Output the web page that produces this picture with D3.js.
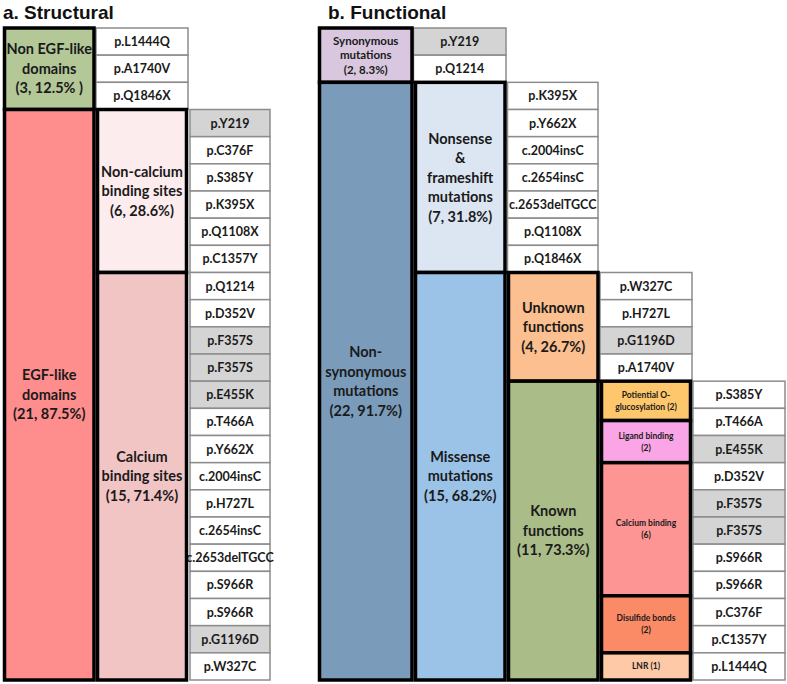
<!DOCTYPE html>
<html>
<head>
<meta charset="utf-8">
<script src="https://cdn.jsdelivr.net/npm/d3@7"></script>
<style>
  html, body { margin: 0; padding: 0; background: #fff; }
  svg { display: block; }
</style>
</head>
<body>
<svg id="chart" width="787" height="684"></svg>
<script>
// ---------------- DATA ----------------
const totalRows = 24;

// a. Structural
const structTitle = "a. Structural";
const structLevel1Labels = [["Non EGF-like", "domains", "(3, 12.5% )"], ["EGF-like", "domains", "(21, 87.5%)"]];
const structLevel1Counts = [3, 21];
const structLevel2Labels = [["Non-calcium", "binding sites", "(6, 28.6%)"], ["Calcium", "binding sites", "(15, 71.4%)"]];
const structLevel2Counts = [6, 15];
const structNonEgfMutations = ["p.L1444Q", "p.A1740V", "p.Q1846X"];
const structNonEgfShaded = [false, false, false];
const structEgfMutations = ["p.Y219", "p.C376F", "p.S385Y", "p.K395X", "p.Q1108X", "p.C1357Y",
  "p.Q1214", "p.D352V", "p.F357S", "p.F357S", "p.E455K", "p.T466A", "p.Y662X", "c.2004insC",
  "p.H727L", "c.2654insC", "c.2653delTGCC", "p.S966R", "p.S966R", "p.G1196D", "p.W327C"];
const structEgfShaded = [true, false, false, false, false, false,
  false, false, true, true, true, false, false, false,
  false, false, false, false, false, true, false];

// b. Functional
const funcTitle = "b. Functional";
const funcLevel1Labels = [["Synonymous", "mutations", "(2, 8.3%)"], ["Non-", "synonymous", "mutations", "(22, 91.7%)"]];
const funcLevel1Counts = [2, 22];
const funcSynMutations = ["p.Y219", "p.Q1214"];
const funcSynShaded = [true, false];
const funcLevel2Labels = [["Nonsense", "&", "frameshift", "mutations", "(7, 31.8%)"], ["Missense", "mutations", "(15, 68.2%)"]];
const funcLevel2Counts = [7, 15];
const funcNonsenseMutations = ["p.K395X", "p.Y662X", "c.2004insC", "c.2654insC", "c.2653delTGCC", "p.Q1108X", "p.Q1846X"];
const funcNonsenseShaded = [false, false, false, false, false, false, false];
const funcLevel3Labels = [["Unknown", "functions", "(4, 26.7%)"], ["Known", "functions", "(11, 73.3%)"]];
const funcLevel3Counts = [4, 11];
const funcUnknownMutations = ["p.W327C", "p.H727L", "p.G1196D", "p.A1740V"];
const funcUnknownShaded = [false, false, true, false];
const funcKnownSubLabels = [["Potiential O-", "glucosylation (2)"], ["Ligand binding", "(2)"], ["Calcium binding", "(6)"], ["Disulfide bonds", "(2)"], ["LNR (1)"]];
const funcKnownSubCounts = [2, 2, 6, 2, 1];
const funcKnownMutations = ["p.S385Y", "p.T466A", "p.E455K", "p.D352V", "p.F357S", "p.F357S",
  "p.S966R", "p.S966R", "p.C376F", "p.C1357Y", "p.L1444Q"];
const funcKnownShaded = [false, false, true, false, true, true, false, false, false, false, false];

// ---------------- LAYOUT / STYLE ----------------
// row extents drawn for the "known functions" sub-boxes (as they appear in the figure)
const knownSubRowExtent = [[13, 14.45], [14.45, 16], [16, 20.9], [20.9, 23], [23, 24]];

const colors = {
  nonEgf: "#b3c797", egf: "#fe8d8d", nonCa: "#fdeced", ca: "#f2c5c5",
  syn: "#d8c7df", nonSyn: "#7a9bba", nonsense: "#dce6f2", missense: "#9bc3e7",
  unknown: "#fcbf8f", known: "#aabd88",
  knownSub: ["#fec76c", "#f9a5e6", "#fe9595", "#fb8a66", "#fdc9a7"],
  shaded: "#d4d4d4", cell: "#ffffff", cellStroke: "#8c8c8c", text: "#1a1a1a"
};

const svg = d3.select("#chart");
const y = d3.scaleLinear().domain([0, totalRows]).range([28, 680]);

const FONT = "Lato, 'Open Sans', sans-serif";

function cells(g, items, shaded, startRow, x0, x1) {
  const sel = g.append("g").selectAll("g").data(items).join("g");
  sel.append("rect")
    .attr("x", x0).attr("width", x1 - x0)
    .attr("y", (d, i) => y(startRow + i)).attr("height", (d, i) => y(startRow + i + 1) - y(startRow + i))
    .attr("fill", (d, i) => shaded[i] ? colors.shaded : colors.cell)
    .attr("stroke", colors.cellStroke).attr("stroke-width", 1.5);
  sel.append("text")
    .attr("x", (x0 + x1) / 2)
    .attr("y", (d, i) => (y(startRow + i) + y(startRow + i + 1)) / 2)
    .attr("dy", "0.36em")
    .attr("text-anchor", "middle")
    .attr("font-family", FONT).attr("font-weight", 700).attr("font-size", 12.5)
    .attr("fill", colors.text)
    .text(d => d);
}

function box(g, lines, r0, r1, x0, x1, fill, fontSize, lineH) {
  g.append("rect")
    .attr("x", x0).attr("width", x1 - x0)
    .attr("y", y(r0)).attr("height", y(r1) - y(r0))
    .attr("fill", fill).attr("stroke", "#000").attr("stroke-width", 3.5);
  const cy = (y(r0) + y(r1)) / 2;
  const t = g.append("text")
    .attr("text-anchor", "middle")
    .attr("font-family", FONT).attr("font-weight", 700).attr("font-size", fontSize)
    .attr("fill", colors.text);
  lines.forEach((ln, i) => {
    t.append("tspan").attr("x", (x0 + x1) / 2)
      .attr("y", cy + (i - (lines.length - 1) / 2) * lineH)
      .attr("dy", "0.36em").text(ln);
  });
}

function cumStarts(counts, offset) {
  const s = []; let acc = offset;
  counts.forEach(c => { s.push(acc); acc += c; });
  return s;
}

// ---------------- PANEL A ----------------
const ga = svg.append("g");
ga.append("text").attr("x", 3).attr("y", 18.5)
  .attr("font-family", "'Liberation Sans', Arial, sans-serif").attr("font-weight", 700)
  .attr("font-size", 19).attr("fill", "#111").text(structTitle);

const aL1 = cumStarts(structLevel1Counts, 0);
const aL2 = cumStarts(structLevel2Counts, aL1[1]);
cells(ga, structNonEgfMutations, structNonEgfShaded, aL1[0], 96, 188);
cells(ga, structEgfMutations, structEgfShaded, aL1[1], 190, 270);
box(ga, structLevel1Labels[0], aL1[0], aL1[0] + structLevel1Counts[0], 4.5, 94, colors.nonEgf, 14.5, 19.5);
box(ga, structLevel1Labels[1], aL1[1], aL1[1] + structLevel1Counts[1], 4.5, 94, colors.egf, 14.5, 19.5);
box(ga, structLevel2Labels[0], aL2[0], aL2[0] + structLevel2Counts[0], 97.5, 186.5, colors.nonCa, 14.5, 19.5);
box(ga, structLevel2Labels[1], aL2[1], aL2[1] + structLevel2Counts[1], 97.5, 186.5, colors.ca, 14.5, 19.5);

// ---------------- PANEL B ----------------
const gb = svg.append("g");
gb.append("text").attr("x", 328).attr("y", 18.5)
  .attr("font-family", "'Liberation Sans', Arial, sans-serif").attr("font-weight", 700)
  .attr("font-size", 19).attr("fill", "#111").text(funcTitle);

const bL1 = cumStarts(funcLevel1Counts, 0);
const bL2 = cumStarts(funcLevel2Counts, bL1[1]);
const bL3 = cumStarts(funcLevel3Counts, bL2[1]);

cells(gb, funcSynMutations, funcSynShaded, bL1[0], 413.5, 506);
cells(gb, funcNonsenseMutations, funcNonsenseShaded, bL2[0], 507.5, 598);
cells(gb, funcUnknownMutations, funcUnknownShaded, bL3[0], 600, 692);
cells(gb, funcKnownMutations, funcKnownShaded, bL3[1], 693, 785);

box(gb, funcLevel1Labels[0], bL1[0], bL1[0] + funcLevel1Counts[0], 319.5, 412, colors.syn, 11.5, 14.5);
box(gb, funcLevel1Labels[1], bL1[1], bL1[1] + funcLevel1Counts[1], 319.5, 412, colors.nonSyn, 14.5, 19.5);
box(gb, funcLevel2Labels[0], bL2[0], bL2[0] + funcLevel2Counts[0], 415.5, 505, colors.nonsense, 14.5, 19.5);
box(gb, funcLevel2Labels[1], bL2[1], bL2[1] + funcLevel2Counts[1], 415.5, 505, colors.missense, 14.5, 19.5);
box(gb, funcLevel3Labels[0], bL3[0], bL3[0] + funcLevel3Counts[0], 508.5, 598, colors.unknown, 14.5, 19.5);
box(gb, funcLevel3Labels[1], bL3[1], bL3[1] + funcLevel3Counts[1], 508.5, 598, colors.known, 14.5, 19.5);
funcKnownSubLabels.forEach((lab, i) => {
  const [r0, r1] = knownSubRowExtent[i];
  box(gb, lab, r0, r1, 601.5, 690.5, colors.knownSub[i], 8.5, 12);
});
</script>
</body>
</html>
